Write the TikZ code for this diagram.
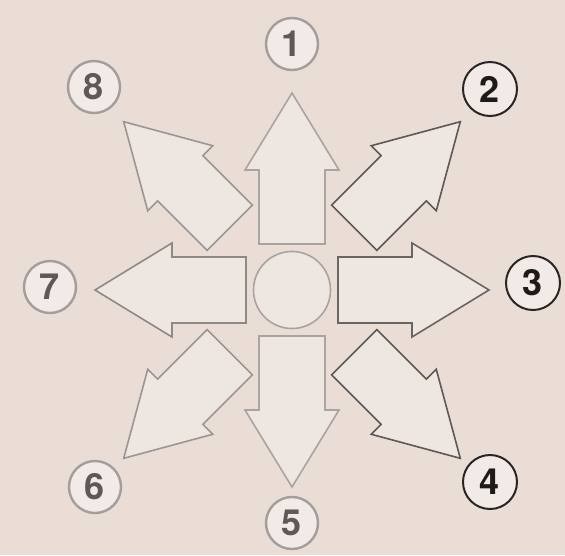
\documentclass[tikz,border=0pt]{standalone}
\usepackage{fontspec}
\setmainfont{TeX Gyre Heros}
\definecolor{bg}{HTML}{E9DDD6}
\definecolor{arrowfill}{HTML}{EEE6E1}
\definecolor{labfill}{HTML}{F1EAE7}
\definecolor{ortholight}{HTML}{A9A3A1}
\definecolor{orthodark}{HTML}{6C6462}
\definecolor{orthomid}{HTML}{8E8886}
\definecolor{diagdark}{HTML}{5E5856}
\definecolor{diaglight}{HTML}{9B9593}
\definecolor{labgray}{HTML}{A39D9B}
\definecolor{labblack}{HTML}{2A2525}
\definecolor{digitgray}{HTML}{5F5856}
\definecolor{digitblack}{HTML}{1E1A1A}
\begin{document}
\begin{tikzpicture}[x=1pt,y=-1pt,
  arr/.style={draw=#1, fill=arrowfill, line width=1.6pt, line join=miter},
  lab/.style={circle, draw=#1, fill=labfill, line width=2pt, minimum size=54pt, inner sep=0pt,
    font=\fontsize{36}{36}\selectfont\bfseries},
  labg/.style={lab=labgray, line width=2.4pt, minimum size=52pt, text=digitgray},
  labb/.style={lab=labblack, text=digitblack}
]
\fill[bg] (0,0) rectangle (565,555);
\useasboundingbox (0,0) rectangle (565,555);
\coordinate (c) at (292,290);
% diagonal arrows
\foreach \a/\col in {45/diagdark, -45/diagdark, -135/diaglight, 135/diaglight}
  \draw[arr=\col, shift={(c)}, rotate=\a]
    (88,-32) -- (158,-32) -- (158,-46) -- (238,0) -- (158,46) -- (158,32) -- (88,32) -- cycle;
% orthogonal arrows
\foreach \a/\col in {90/ortholight, 0/orthodark, 180/orthomid, -90/ortholight}
  \draw[arr=\col, shift={(c)}, rotate=\a]
    (46,-33) -- (120,-33) -- (120,-47) -- (197,0) -- (120,47) -- (120,33) -- (46,33) -- cycle;
% hub
\node[circle, draw=ortholight, fill=arrowfill, line width=1.6pt, minimum size=77pt, inner sep=0pt] (hub) at (c) {};
% labels
\node[labg] (n1) at (292,44) {1};
\node[labb] (n2) at (490,89) {2};
\node[labb] (n3) at (533,283) {3};
\node[labb] (n4) at (490,482) {4};
\node[labg] (n5) at (292,523) {5};
\node[labg] (n6) at (95,487) {6};
\node[labg] (n7) at (50,287) {7};
\node[labg] (n8) at (94,87) {8};
\end{tikzpicture}
\end{document}
